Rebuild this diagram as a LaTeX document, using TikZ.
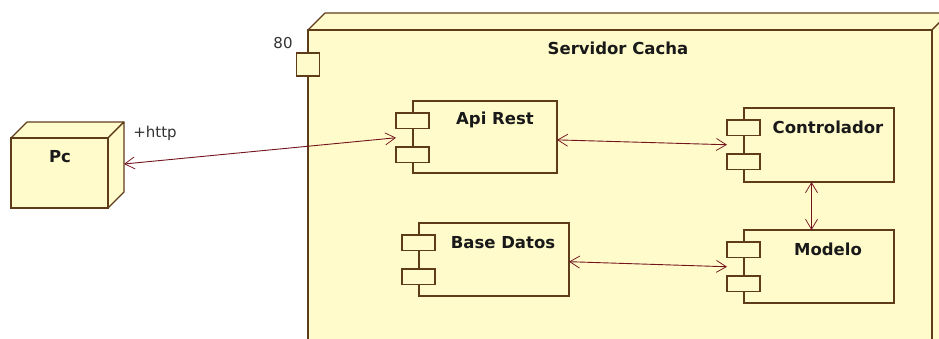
\documentclass[tikz,border=0pt]{standalone}
\usepackage{fontspec}
\setmainfont{DejaVu Sans}
\usetikzlibrary{arrows.meta,calc}
\definecolor{fillY}{RGB}{255,251,202}
\definecolor{edge}{RGB}{95,60,25}
\definecolor{link}{RGB}{115,20,30}
\begin{document}
\begin{tikzpicture}[x=1pt,y=-1pt,
  box/.style={draw=edge, fill=fillY, line width=1.1pt, inner sep=0pt, outer sep=0pt},
  face/.style={draw=edge, fill=fillY, line width=1.1pt, line join=round},
  lbl/.style={font=\bfseries\fontsize{16.5}{18}\selectfont, text=black!90, inner sep=0pt},
  plain/.style={font=\fontsize{15}{17}\selectfont, text=black!80, inner sep=0pt},
  conn/.style={draw=link, line width=0.9pt,
    {Straight Barb[length=10pt,width=12pt,line width=0.75pt]}-{Straight Barb[length=10pt,width=12pt,line width=0.75pt]}}
]
\useasboundingbox (0,0) rectangle (939,338);
\fill[white] (0,0) rectangle (939,338);

% ---------- Pc node ----------
\draw[face] (11,138) -- (27,122) -- (124,122) -- (108,138) -- cycle;
\draw[face] (108,138) -- (124,122) -- (124,192) -- (108,208) -- cycle;
\node[box, minimum width=97pt, minimum height=70pt, anchor=north west] (pc) at (11,138) {};
\node[lbl] (pclbl) at (60,157) {Pc};
\coordinate (pcport) at (124,164);
\node[plain] (http) at (155,133) {+http};

% ---------- Servidor Cacha node ----------
\begin{scope}
\clip (0,0) rectangle (939,338);
\draw[face] (308,30) -- (325,13) -- (949,13) -- (932,30) -- cycle;
\draw[face] (932,30) -- (949,13) -- (949,380) -- (932,397) -- cycle;
\node[box, minimum width=624pt, minimum height=360pt, anchor=north west] (srv) at (308,30) {};
\end{scope}
\node[lbl] (srvlbl) at (618,48) {Servidor Cacha};
\node[box, minimum width=23pt, minimum height=23pt] (port) at (308,64.5) {};
\node[plain] (portlbl) at (283,43) {80};

% ---------- components ----------
% #1 name, #2 left, #3 top, #4 width, #5 height
\newcommand{\compbox}[5]{%
  \node[box, minimum width=#4pt, minimum height=#5pt, anchor=north west] (#1) at (#2,#3) {};
  \node[box, minimum width=33pt, minimum height=15.5pt, anchor=north west] (#1-p1) at ($(#2,#3)+(-17,12)$) {};
  \node[box, minimum width=33pt, minimum height=15.5pt, anchor=north west] (#1-p2) at ($(#2,#3)+(-17,46)$) {};
}
\compbox{api}{413}{101}{144}{72}
\node[lbl] (apilbl) at (495,120) {Api Rest};
\compbox{ctrl}{744}{108}{150}{74}
\node[lbl] (ctrllbl) at (828,127) {Controlador};
\compbox{base}{419}{223}{150}{73}
\node[lbl] (baselbl) at (503,243) {Base Datos};
\compbox{mod}{744}{230}{150}{73}
\node[lbl] (modlbl) at (828,249) {Modelo};

% ---------- connectors ----------
\coordinate (apiIn) at ($(api-p1.south west)!0.5!(api-p2.north west)$);
\coordinate (ctrlIn) at ($(ctrl-p1.south west)!0.5!(ctrl-p2.north west)$);
\coordinate (baseOut) at ($(base.north east)!0.53!(base.south east)$);
\coordinate (modIn) at ($(mod-p1.south west)!0.5!(mod-p2.north west)$);
\coordinate (apiOut) at ($(api.north east)!0.54!(api.south east)$);
\coordinate (ctrlDown) at ($(ctrl.south west)!0.45!(ctrl.south east)$);
\coordinate (modUp) at ($(mod.north west)!0.45!(mod.north east)$);

\draw[conn] (pcport) -- (apiIn);
\draw[conn] (apiOut) -- (ctrlIn);
\draw[conn] (ctrlDown) -- (modUp);
\draw[conn] (baseOut) -- (modIn);
\end{tikzpicture}
\end{document}
